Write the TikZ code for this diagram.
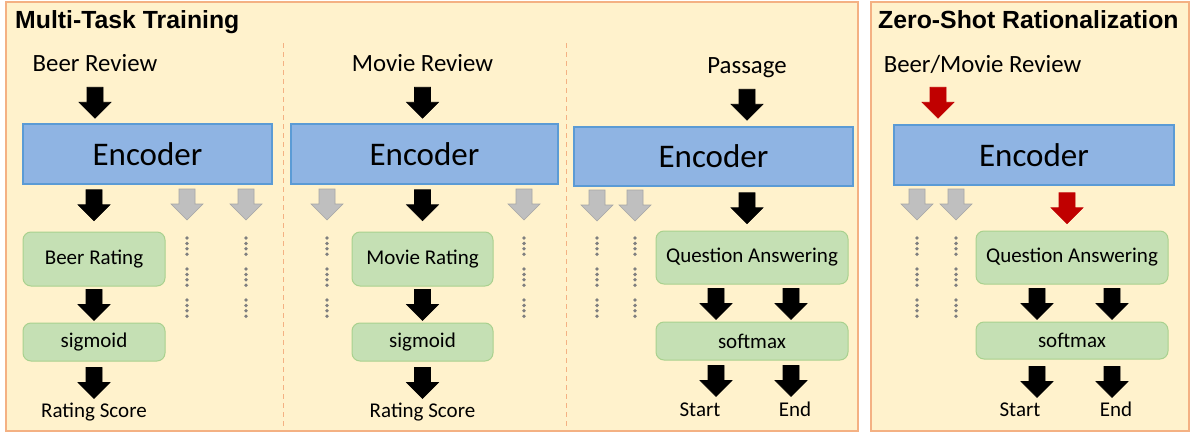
\documentclass[tikz,border=0pt]{standalone}
\usepackage{fontspec}
\setmainfont{Carlito}
\newfontfamily\headfont{Liberation Sans}
\usepackage{tikz}

\definecolor{panelfill}{HTML}{FFF2CC}
\definecolor{panelline}{HTML}{F4B183}
\definecolor{encfill}{HTML}{8FB4E3}
\definecolor{encline}{HTML}{5B9BD5}
\definecolor{taskfill}{HTML}{C5E0B4}
\definecolor{taskline}{HTML}{A9D18E}
\definecolor{stubfill}{HTML}{BFBFBF}
\definecolor{stubline}{HTML}{A6A6A6}
\definecolor{dotgray}{HTML}{7F7F7F}
\definecolor{zsred}{HTML}{C00000}

\tikzset{
    panel/.style={draw=panelline, fill=panelfill, line width=2pt},
    sep/.style={draw=panelline, line width=1pt, dash pattern=on 5pt off 4pt},
    head/.style={font=\headfont\bfseries\fontsize{24.8}{28}\selectfont, anchor=base west, inner sep=0pt},
    lbl/.style={font=\fontsize{21}{25}\selectfont, anchor=base, inner sep=0pt},
    inlbl/.style={lbl, font=\fontsize{24.8}{29}\selectfont},
    enc/.style={draw=encline, fill=encfill, line width=1.5pt, inner sep=0pt, font=\fontsize{33}{39}\selectfont},
    task/.style={draw=taskline, fill=taskfill, line width=1pt, rounded corners=8pt, inner sep=0pt, font=\fontsize{21}{25}\selectfont},
    blkblack/.style={fill=black, draw=black},
    blkgray/.style={fill=stubfill, draw=stubline},
    blkred/.style={fill=zsred, draw=zsred},
    blk/.pic={\path[pic actions, line width=0.6pt] (-8,0) -- (8,0) -- (8,15) -- (16,15) -- (0,31) -- (-16,15) -- (-8,15) -- cycle;},
}

\begin{document}
\begin{tikzpicture}[x=1pt,y=-1pt]
    \useasboundingbox (0,0) rectangle (1192,434);

    % panels
    \draw[panel] (6,2) rectangle (858,431);
    \draw[panel] (871,2) rectangle (1189,431);
    \draw[sep] (283,43) -- (283,431);
    \draw[sep] (566,43) -- (566,431);

    \node[head] (mttitle) at (15,28) {Multi-Task Training};
    \node[head] (zstitle) at (878,28) {Zero-Shot Rationalization};

    % beer review
    \node[inlbl] (beerin) at (95,71) {Beer Review};
    \node[enc, minimum width=249pt, minimum height=60pt] (enc1) at (147.5,154) {Encoder};
    \node[task, minimum width=142pt, minimum height=54pt] (beerrate) at (94,259) {Beer Rating};
    \node[task, minimum width=142pt, minimum height=38pt] (sig1) at (94,342) {sigmoid};
    \node[lbl] (beerout) at (94,417) {Rating Score};

    \pic[blkblack, yshift=36pt] at (beerin |- enc1.north) {blk};
    \pic[blkblack, yshift=-5pt] at (beerrate |- enc1.south) {blk};
    \pic[blkblack, yshift=-3pt] at (beerrate.south) {blk};
    \pic[blkblack, yshift=-6pt] at (sig1.south) {blk};

    % movie review
    \node[inlbl] (movein) at (422.5,71) {Movie Review};
    \node[enc, minimum width=267pt, minimum height=60pt] (enc2) at (424.5,154) {Encoder};
    \node[task, minimum width=141pt, minimum height=54pt] (moverate) at (422.5,259) {Movie Rating};
    \node[task, minimum width=141pt, minimum height=38pt] (sig2) at (422.5,342) {sigmoid};
    \node[lbl] (moveout) at (422.5,417) {Rating Score};

    \pic[blkblack, yshift=36pt] at (movein |- enc2.north) {blk};
    \pic[blkblack, yshift=-5pt] at (moverate |- enc2.south) {blk};
    \pic[blkblack, yshift=-3pt] at (moverate.south) {blk};
    \pic[blkblack, yshift=-6pt] at (sig2.south) {blk};

    % passage
    \node[inlbl] (passin) at (747,73) {Passage};
    \node[enc, minimum width=279pt, minimum height=59pt] (enc3) at (713.5,156.5) {Encoder};
    \node[task, minimum width=192pt, minimum height=53pt] (qa3) at (752,257.5) {Question Answering};
    \node[task, minimum width=192pt, minimum height=38pt] (sm3) at (752,341) {softmax};
    \node[lbl] (start3) at (700,416) {Start};
    \node[lbl] (end3) at (795,416) {End};

    \pic[blkblack, yshift=37pt] at (passin |- enc3.north) {blk};
    \pic[blkblack, yshift=-6pt] at (passin |- enc3.south) {blk};
    \foreach \s in {-36,39}{%
        \pic[blkblack, xshift=\s pt, yshift=-4pt] at (qa3.south) {blk};
        \pic[blkblack, xshift=\s pt, yshift=-5pt] at (sm3.south) {blk};}

    % zero-shot
    \node[inlbl] (zsin) at (982.5,72) {Beer/Movie Review};
    \node[enc, minimum width=280pt, minimum height=60pt] (enc4) at (1034,155) {Encoder};
    \node[task, minimum width=192pt, minimum height=53pt] (qa4) at (1072,257.5) {Question Answering};
    \node[task, minimum width=192pt, minimum height=37pt] (sm4) at (1072,340.5) {softmax};
    \node[lbl] (start4) at (1020,416) {Start};
    \node[lbl] (end4) at (1116,416) {End};

    \pic[blkred, xshift=-96pt, yshift=37pt] at (enc4.north) {blk};
    \pic[blkred, xshift=-5pt, yshift=-7pt] at (qa4 |- enc4.south) {blk};
    \foreach \s in {-35,40}{%
        \pic[blkblack, xshift=\s pt, yshift=-4pt] at (qa4.south) {blk};
        \pic[blkblack, xshift=\s pt, yshift=-7pt] at (sm4.south) {blk};}

    % unused heads
    \foreach \x/\y in {187/189,246/189,327/189,524/189,597/190,635/190,917/189,956/189}
        \pic[blkgray] at (\x,\y) {blk};
    \foreach \x in {187,246,327,524,597,635,917,956}
        \foreach \g in {0,1,2}
            \foreach \d in {0,...,3}
                \fill[dotgray] (\x,{238+31*\g+5.4*\d}) circle[radius=1.9pt];
\end{tikzpicture}
\end{document}
